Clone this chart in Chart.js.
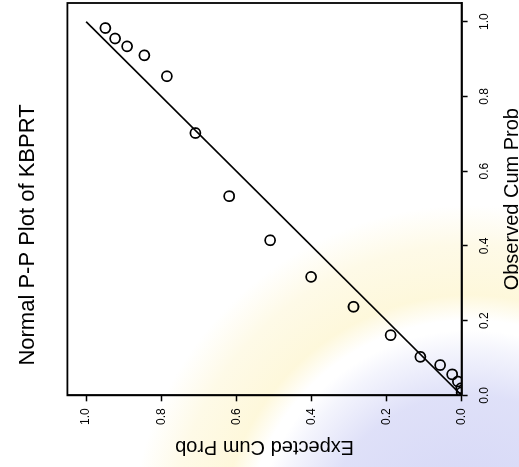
<!DOCTYPE html>
<html>
<head>
<meta charset="utf-8">
<script src="https://cdn.jsdelivr.net/npm/chart.js@4.4.1/dist/chart.umd.min.js"></script>
<style>
  html, body { margin: 0; padding: 0; width: 519px; height: 467px; overflow: hidden; background: #fff; }
  #stage {
    position: absolute; left: 0; top: 0; width: 519px; height: 467px;
    background:
      radial-gradient(circle at 470px 545px, rgba(206,208,245,0.9) 0px, rgba(212,214,246,0.75) 150px, rgba(222,224,248,0.35) 195px, rgba(255,255,255,0) 215px),
      radial-gradient(circle at 470px 545px, rgba(255,255,255,0) 225px, rgba(253,244,200,0.65) 250px, rgba(253,246,212,0.55) 300px, rgba(255,255,255,0) 340px);
  }
  /* the plot is laid out upright, then turned a quarter turn counter-clockwise */
  #chart {
    position: absolute; left: 0; top: 0;
    transform-origin: 0 0;
    transform: translate(0, 467px) rotate(-90deg);
  }
</style>
</head>
<body>
<div id="stage"></div>
<canvas id="chart" width="467" height="526"></canvas>
<script>
// Cumulative proportions for KBPRT
const observedCumProb = [0.983, 0.955, 0.934, 0.910, 0.854, 0.702, 0.533, 0.415, 0.317, 0.237, 0.161, 0.103, 0.081, 0.056, 0.037, 0.019, 0.008];
const expectedCumProb = [0.949, 0.923, 0.891, 0.845, 0.785, 0.709, 0.619, 0.510, 0.401, 0.288, 0.189, 0.110, 0.057, 0.025, 0.010, 0.001, 0.000];
// Reference diagonal
const diagonalX = [0, 1];
const diagonalY = [0, 1];
const axisTicks = [0.0, 0.2, 0.4, 0.6, 0.8, 1.0];

const titleText = 'Normal P-P Plot of KBPRT';
const xTitle = 'Observed Cum Prob';
const yTitle = 'Expected Cum Prob';

const FONT = "'Liberation Sans', Arial, Helvetica, sans-serif";

const points = observedCumProb.map((v, i) => ({ x: v, y: expectedCumProb[i] }));
const diagonal = diagonalX.map((v, i) => ({ x: v, y: diagonalY[i] }));

// Closes the plot frame on the two sides without an axis
const frame = {
  id: 'frame',
  beforeDatasetsDraw(chart) {
    const a = chart.chartArea, ctx = chart.ctx;
    ctx.save();
    ctx.strokeStyle = '#000';
    ctx.lineWidth = 1.8;
    ctx.strokeRect(a.left, a.top, a.right - a.left, a.bottom - a.top);
    ctx.restore();
  }
};

function axis(pos, titleStr, titlePad, tickPad) {
  return {
    type: 'linear',
    position: pos,
    min: 0,
    max: 1.05,
    afterBuildTicks(scale) { scale.ticks = axisTicks.map(v => ({ value: v })); },
    ticks: {
      includeBounds: false,
      padding: tickPad,
      color: '#000',
      font: { family: FONT, size: 12 },
      callback: v => Number(v).toFixed(1)
    },
    grid: {
      display: true,
      drawOnChartArea: false,
      drawTicks: true,
      tickLength: 6,
      tickWidth: 1.5,
      tickColor: '#000'
    },
    border: { display: true, color: '#000', width: 1.8 },
    title: {
      display: true,
      text: titleStr,
      color: '#000',
      font: { family: FONT, size: 20 },
      padding: titlePad
    }
  };
}

new Chart(document.getElementById('chart'), {
  type: 'scatter',
  data: {
    datasets: [
      {
        type: 'line',
        data: diagonal,
        borderColor: '#000',
        borderWidth: 1.6,
        pointRadius: 0,
        fill: false
      },
      {
        data: points,
        pointStyle: 'circle',
        pointRadius: 5,
        pointBorderWidth: 1.8,
        borderColor: '#000',
        backgroundColor: 'rgba(0,0,0,0)'
      }
    ]
  },
  options: {
    responsive: false,
    animation: false,
    layout: { autoPadding: false, padding: { top: 0, right: 3, bottom: 2, left: 0 } },
    plugins: {
      legend: { display: false },
      tooltip: { enabled: false },
      title: {
        display: true,
        text: titleText,
        color: '#000',
        font: { family: FONT, size: 22, weight: 'normal' },
        padding: { top: 15, bottom: 26 }
      }
    },
    scales: {
      x: axis('bottom', xTitle, { top: -2, bottom: 0 }, 10),
      y: axis('left', yTitle, { top: 8, bottom: 3 }, 7)
    }
  },
  plugins: [frame]
});
</script>
</body>
</html>
